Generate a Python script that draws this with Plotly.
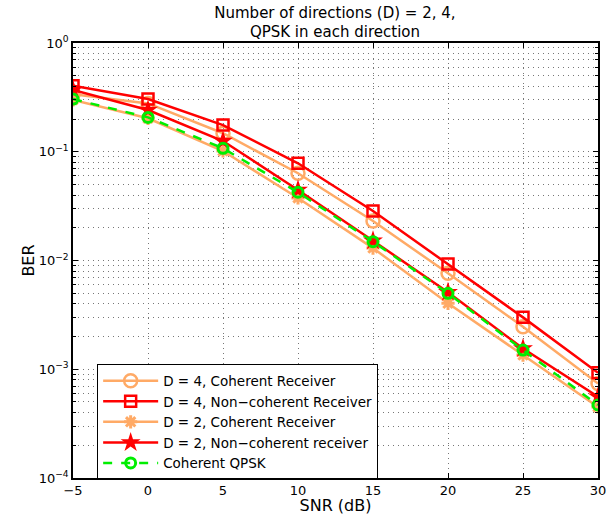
import plotly.graph_objects as go

# SNR sweep (dB) and simulated bit error rates
snr_db = [-5, 0, 5, 10, 15, 20, 25, 30]
ber_d4_coherent = [0.338, 0.278, 0.148, 0.0634, 0.0231, 0.00762, 0.00246, 0.00074]
ber_d4_noncoherent = [0.405, 0.305, 0.176, 0.0783, 0.0285, 0.00929, 0.0030, 0.00093]
ber_d2_coherent = [0.300, 0.203, 0.1016, 0.0376, 0.0130, 0.00404, 0.00135, 0.00045]
ber_d2_noncoherent = [0.370, 0.242, 0.1255, 0.0445, 0.0152, 0.0051, 0.00155, 0.00056]
ber_qpsk = [0.305, 0.207, 0.1076, 0.0424, 0.0149, 0.00499, 0.00150, 0.000469]

x_ticks = [-5, 0, 5, 10, 15, 20, 25, 30]
x_tick_text = ["−5", "0", "5", "10", "15", "20", "25", "30"]
y_ticks = [1e-4, 1e-3, 1e-2, 1e-1, 1]
y_tick_text = ["10<sup>−4</sup>", "10<sup>−3</sup>", "10<sup>−2</sup>",
               "10<sup>−1</sup>", "10<sup>0</sup>"]

ORANGE = "#FFAA66"
RED = "#FF0000"
GREEN = "#00EE00"
FONT = "DejaVu Sans, Verdana, sans-serif"

fig = go.Figure()

fig.add_trace(go.Scatter(
    x=snr_db, y=ber_d4_coherent, mode="lines+markers",
    name="D = 4, Coherent Receiver",
    line=dict(color=ORANGE, width=2.5),
    marker=dict(symbol="circle-open", size=13, color=ORANGE, line=dict(width=2.5)),
))
fig.add_trace(go.Scatter(
    x=snr_db, y=ber_d4_noncoherent, mode="lines+markers",
    name="D = 4, Non−coherent Receiver",
    line=dict(color=RED, width=2.5),
    marker=dict(symbol="square-open", size=11, color=RED, line=dict(width=2.5)),
))
fig.add_trace(go.Scatter(
    x=snr_db, y=ber_d2_coherent, mode="lines+markers",
    name="D = 2, Coherent Receiver",
    line=dict(color=ORANGE, width=2.5),
    marker=dict(symbol="asterisk-open", size=11, color=ORANGE, line=dict(width=3, color=ORANGE)),
))
fig.add_trace(go.Scatter(
    x=snr_db, y=ber_d2_noncoherent, mode="lines+markers",
    name="D = 2, Non−coherent receiver",
    line=dict(color=RED, width=2.5),
    marker=dict(symbol="star", size=15, color=RED, line=dict(width=0)),
))
fig.add_trace(go.Scatter(
    x=snr_db, y=ber_qpsk, mode="lines+markers",
    name="Coherent QPSK",
    line=dict(color=GREEN, width=2.5, dash="dash"),
    marker=dict(symbol="circle-open", size=10, color=GREEN, line=dict(width=3)),
))

grid = dict(gridcolor="#777777", griddash="1px,4px", gridwidth=1)

fig.update_layout(
    width=610, height=515,
    margin=dict(l=73, r=12, t=43, b=37, autoexpand=False),
    paper_bgcolor="white", plot_bgcolor="white",
    font=dict(family=FONT, size=13, color="black"),
    title=dict(
        text="Number of directions (D) = 2, 4,<br>QPSK in each direction",
        x=0.5491, xanchor="center", yref="container", y=0.966, yanchor="middle",
        font=dict(size=15),
    ),
    xaxis=dict(
        range=[-5, 30], tickvals=x_ticks, ticktext=x_tick_text,
        title=dict(text="SNR (dB)", standoff=0), automargin=False,
        showline=True, linecolor="black", linewidth=1.5, mirror="ticks",
        ticks="inside", ticklen=5, tickcolor="black",
        showgrid=True, zeroline=False, **grid,
    ),
    yaxis=dict(
        type="log", range=[-4, 0], tickvals=y_ticks, ticktext=y_tick_text,
        title=dict(text="BER", standoff=0), automargin=False,
        showline=True, linecolor="black", linewidth=1.5, mirror="ticks",
        ticks="inside", ticklen=5, tickcolor="black",
        showgrid=True, zeroline=False, **grid,
        minor=dict(dtick="D1", ticks="inside", ticklen=3, tickcolor="black",
                   showgrid=True, **grid),
    ),
    legend=dict(
        x=0.046, y=0.261, xanchor="left", yanchor="top",
        bgcolor="white", bordercolor="black", borderwidth=1,
        font=dict(size=13.5), itemwidth=55, tracegroupgap=0,
    ),
    showlegend=True,
)

fig.write_html("out.html")
